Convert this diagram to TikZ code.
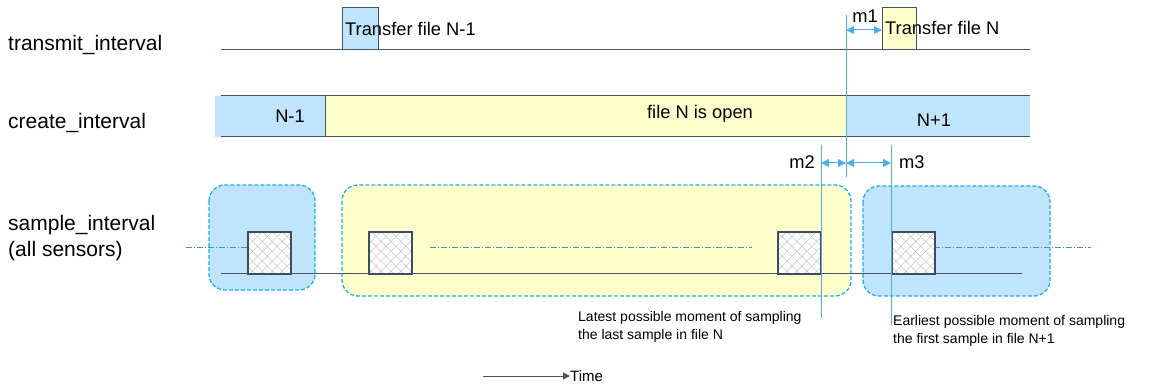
\documentclass[tikz,border=0pt]{standalone}
\usepackage{fontspec}
\setmainfont{Liberation Sans}
\usetikzlibrary{positioning,arrows.meta,patterns.meta,calc}
\definecolor{fileblue}{RGB}{192,228,252}
\definecolor{fileyellow}{RGB}{255,255,204}
\definecolor{slate}{RGB}{68,84,106}
\definecolor{dashblue}{RGB}{30,176,240}
\definecolor{markblue}{RGB}{79,176,232}
\definecolor{gridblue}{RGB}{74,144,192}

\tikzset{
  lbl/.style={font=\fontsize{21}{26}\selectfont, anchor=west, inner sep=0pt},
  boxtext/.style={font=\fontsize{18.3}{20}\selectfont, inner sep=0pt},
  note/.style={font=\fontsize{14}{18}\selectfont, align=left, anchor=north west, inner sep=0pt},
  timeline/.style={draw=slate, line width=1pt},
  tbox/.style={draw=slate, line width=0.8pt, minimum width=36pt, minimum height=42pt, anchor=south west, inner sep=0pt},
  window/.style={draw=dashblue, dashed, dash pattern=on 4pt off 2pt, line width=1.3pt, rounded corners=16pt},
  sample/.style={draw=slate!90!black, line width=1.6pt, minimum width=43pt, minimum height=42pt, anchor=north west, inner sep=0pt,
    preaction={fill=white},
    preaction={pattern={Lines[angle=45,distance=7pt,line width=0.5pt]}, pattern color=gray!45},
    preaction={pattern={Lines[angle=-45,distance=7pt,line width=0.5pt]}, pattern color=gray!45}},
  marker/.style={draw=markblue, line width=1pt},
  dim/.style={draw=markblue, line width=1pt, {Triangle[length=8pt,width=8pt]}-{Triangle[length=8pt,width=8pt]}},
  axisdash/.style={draw=gridblue, line width=0.6pt, dash pattern=on 6pt off 2pt on 1pt off 2pt},
}

\begin{document}
\begin{tikzpicture}[x=1pt, y=-1pt]
  \useasboundingbox (0,0) rectangle (1152,385);

  % row labels
  \node[lbl] (ltx) at (8,45) {transmit\_interval};
  \node[lbl] (lcr) at (8,123) {create\_interval};
  \node[lbl, align=left] (lsa) at (8,238) {sample\_interval\\(all sensors)};

  % transmit_interval
  \coordinate (txa) at (221,50);
  \coordinate (txb) at (1030,50);
  \node[tbox, fill=fileblue] (tx1) at (342,50) {};
  \node[tbox, fill=fileyellow, minimum width=34pt] (tx2) at (882,50) {};
  \draw[timeline] (txa) -- (txb);
  \node[boxtext, anchor=west] (tx1lbl) at (345,29) {Transfer file N-1};
  \node[boxtext, anchor=west] (tx2lbl) at (885,28) {Transfer file N};

  % create_interval
  \fill[fileblue] (215,96) rectangle (325,137);
  \fill[fileyellow] (325,96) rectangle (846,137);
  \fill[fileblue] (846,96) rectangle (1030,137);
  \draw[timeline] (221,96) -- (1030,96) (221,137) -- (1030,137);
  \draw[timeline] (325,96) -- (325,137);
  \node[boxtext] (cr1) at (290,116) {N-1};
  \node[boxtext] (cr2) at (700,114) {file N is open};
  \node[boxtext] (cr3) at (934,120) {N+1};

  % sample_interval
  \draw[window, fill=fileblue] (209,185) rectangle (315,290);
  \draw[window, fill=fileyellow] (342,185) rectangle (851,296);
  \draw[window, fill=fileblue] (863,186) rectangle (1050,296);
  \draw[axisdash] (186,247) -- (247,247);
  \draw[axisdash] (430,247) -- (752,247);
  \draw[axisdash] (934,247) -- (1091,247);
  \draw[timeline] (221,273) -- (1022,273);
  \foreach \x [count=\i] in {247,368,777,891} {
    \node[sample] (s\i) at (\x,231) {};
  }

  % markers
  \coordinate (m1top) at (846,15);
  \coordinate (m1bot) at (846,177);
  \coordinate (m2top) at (821,145);
  \coordinate (m2bot) at (821,318);
  \coordinate (m3top) at (891,145);
  \coordinate (m3bot) at (891,325);
  \draw[marker] (m1top) -- (m1bot);
  \draw[marker] (m2top) -- (m2bot);
  \draw[marker] (m3top) -- (m3bot);
  \draw[dim] (m1top |- 0,30) -- (tx2.south west |- 0,30);
  \draw[dim] (m2top |- 0,163) -- (m1top |- 0,163);
  \draw[dim] (m1top |- 0,163) -- (m3top |- 0,163);
  \node[boxtext] (m1) at (865,16) {m1};
  \node[boxtext, anchor=east] (m2) at (815,162) {m2};
  \node[boxtext, anchor=west] (m3) at (899,162) {m3};

  % notes
  \node[note] (latest) at (578,311) {Latest possible moment of sampling\\the last sample in file N};
  \node[note] (earliest) at (893,315) {Earliest possible moment of sampling\\the first sample in file N+1};

  % time axis
  \coordinate (t0) at (483,376);
  \node[font=\fontsize{15}{18}\selectfont, anchor=west, inner sep=0pt] (time) at (570,376) {Time};
  \draw[draw=slate, line width=1pt, -{Triangle[length=7pt,width=7pt]}] (t0) -- (time.west);
\end{tikzpicture}
\end{document}
